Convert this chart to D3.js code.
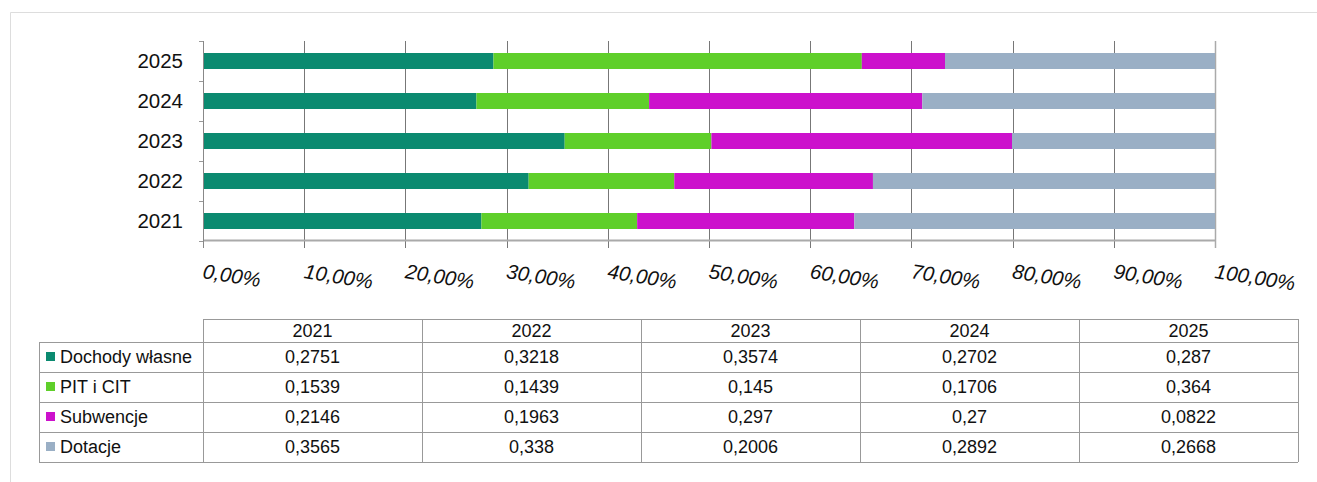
<!DOCTYPE html>
<html><head><meta charset="utf-8">
<script src="https://cdn.jsdelivr.net/npm/d3@7/dist/d3.min.js"></script>
<style>body{margin:0;background:#fff;}svg{display:block;font-family:"Liberation Sans",Arial,sans-serif;}</style>
</head><body>
<svg id="c" width="1317" height="482"></svg>
<script>
const years = ["2021","2022","2023","2024","2025"];
const seriesNames = ["Dochody własne","PIT i CIT","Subwencje","Dotacje"];
const dochody = [0.2751,0.3218,0.3574,0.2702,0.287];
const pitCit = [0.1539,0.1439,0.145,0.1706,0.364];
const subwencje = [0.2146,0.1963,0.297,0.27,0.0822];
const dotacje = [0.3565,0.338,0.2006,0.2892,0.2668];
const cellLabels = [
  ["0,2751","0,3218","0,3574","0,2702","0,287"],
  ["0,1539","0,1439","0,145","0,1706","0,364"],
  ["0,2146","0,1963","0,297","0,27","0,0822"],
  ["0,3565","0,338","0,2006","0,2892","0,2668"]
];
const tickValues = [0,0.1,0.2,0.3,0.4,0.5,0.6,0.7,0.8,0.9,1.0];
const colors = ["#0b8a70","#5fcf2a","#cc11cc","#9aafc5"];

const svg = d3.select("#c");
// frame
svg.append("line").attr("x1",10.5).attr("x2",1317).attr("y1",12.5).attr("y2",12.5).attr("stroke","#ddd");
svg.append("line").attr("x1",10.5).attr("x2",10.5).attr("y1",12.5).attr("y2",482).attr("stroke","#ddd");

const rows = years.map((y,i)=>({year:y, "Dochody własne":dochody[i], "PIT i CIT":pitCit[i], "Subwencje":subwencje[i], "Dotacje":dotacje[i]}));
const stacked = d3.stack().keys(seriesNames)(rows);

const x = d3.scaleLinear().domain([0,1]).range([203,1215]);
const yScale = d3.scaleBand().domain(years.slice().reverse()).range([41,241]).paddingInner(0.6).paddingOuter(0.3);

// gridlines
svg.append("g").selectAll("line").data(tickValues).join("line")
  .attr("x1",d=>Math.round(x(d))+0.5).attr("x2",d=>Math.round(x(d))+0.5)
  .attr("y1",41).attr("y2",248)
  .attr("stroke",(d,i)=> i===tickValues.length-1 ? "#aaa" : "#777")
  .attr("stroke-width",(d,i)=> i===tickValues.length-1 ? 1.5 : 1);

// bars
svg.append("g").selectAll("g").data(stacked).join("g")
  .attr("fill",(d,i)=>colors[i])
  .selectAll("rect").data(d=>d).join("rect")
  .attr("x",d=>x(d[0])).attr("width",d=>Math.max(0,x(Math.min(d[1],1))-x(d[0])))
  .attr("y",d=>yScale(d.data.year)).attr("height",yScale.bandwidth());

// x axis line
svg.append("line").attr("x1",203).attr("x2",1215).attr("y1",240.5).attr("y2",240.5).attr("stroke","#aaa").attr("stroke-width",2);
// y axis line and ticks
svg.append("line").attr("x1",203.5).attr("x2",203.5).attr("y1",41).attr("y2",248).attr("stroke","#888");
const bandEdges = d3.range(6).map(i=>41+i*40);
svg.append("g").selectAll("line").data(bandEdges).join("line")
  .attr("x1",199).attr("x2",203).attr("y1",d=>d+0.5).attr("y2",d=>d+0.5).attr("stroke","#999");

// y labels
svg.append("g").selectAll("text").data(years).join("text")
  .attr("x",183).attr("y",d=>yScale(d)+yScale.bandwidth()/2)
  .attr("dy","0.36em").attr("text-anchor","end").attr("font-size",20.5).attr("fill","#111")
  .text(d=>d);

// x tick labels
const fmt = d => (d*100).toFixed(2).replace(".",",")+"%";
svg.append("g").selectAll("text").data(tickValues).join("text")
  .attr("transform",d=>`translate(${x(d)-1},278) rotate(9)`)
  .attr("font-size",20.5).attr("font-style","italic").attr("fill","#111")
  .text(fmt);

// table
const colX = d3.scaleBand().domain(years).range([203,1298]);
const rowTop = [319,342,372,402,432,462];
const tg = svg.append("g");
const lineColor = "#999";
const fs = 18;
tg.append("line").attr("x1",203).attr("x2",1298).attr("y1",319.5).attr("y2",319.5).attr("stroke",lineColor);
rowTop.slice(1).forEach(yv=>{
  tg.append("line").attr("x1",39).attr("x2",1298).attr("y1",yv+0.5).attr("y2",yv+0.5).attr("stroke",lineColor);
});
tg.append("line").attr("x1",39.5).attr("x2",39.5).attr("y1",342).attr("y2",462).attr("stroke",lineColor);
years.forEach(yv=>{
  tg.append("line").attr("x1",Math.round(colX(yv))+0.5).attr("x2",Math.round(colX(yv))+0.5).attr("y1",319).attr("y2",462).attr("stroke",lineColor);
});
tg.append("line").attr("x1",1298.5).attr("x2",1298.5).attr("y1",319).attr("y2",462).attr("stroke",lineColor);
tg.selectAll("text.h").data(years).join("text").attr("class","h")
  .attr("x",d=>colX(d)+colX.bandwidth()/2).attr("y",330.5).attr("dy","0.36em")
  .attr("text-anchor","middle").attr("font-size",fs).attr("fill","#111").text(d=>d);
seriesNames.forEach((name,r)=>{
  const cy = (rowTop[r+1]+rowTop[r+2])/2;
  tg.append("rect").attr("x",46).attr("y",cy-5).attr("width",9).attr("height",9).attr("fill",colors[r]);
  tg.append("text").attr("x",60).attr("y",cy).attr("dy","0.36em").attr("font-size",fs).attr("fill","#111").text(name);
  years.forEach((yv,c)=>{
    tg.append("text").attr("x",colX(yv)+colX.bandwidth()/2).attr("y",cy).attr("dy","0.36em")
      .attr("text-anchor","middle").attr("font-size",fs).attr("fill","#111").text(cellLabels[r][c]);
  });
});
</script>
</body></html>
